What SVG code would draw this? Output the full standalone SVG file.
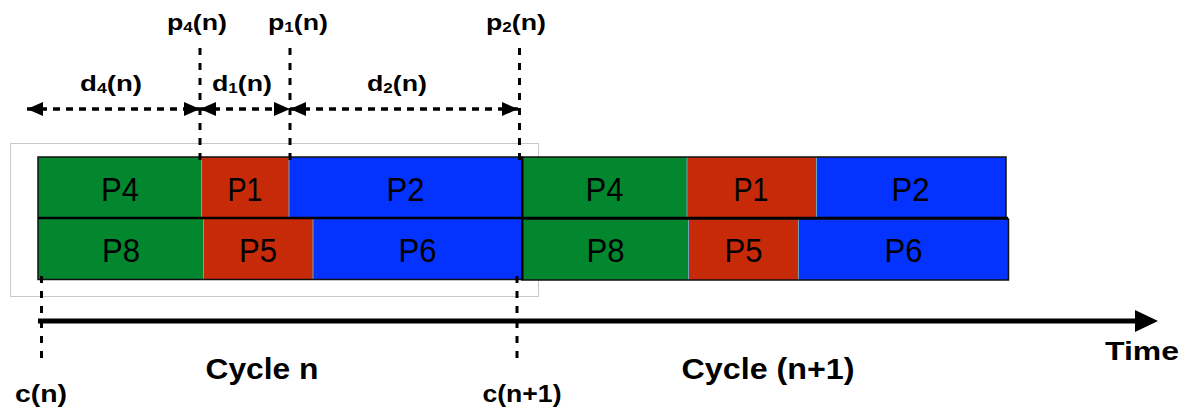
<svg xmlns="http://www.w3.org/2000/svg" width="1185" height="409" viewBox="0 0 1185 409">
<style>
.lbl{font-family:"Liberation Sans",Arial,sans-serif;font-weight:bold;fill:#000;text-anchor:middle}
.bar{font-family:"Liberation Sans",Arial,sans-serif;font-size:34px;fill:#000;text-anchor:middle}
.g{fill:#02872F}.r{fill:#C62A09}.b{fill:#0433FF}
.sep{stroke:#6fa3b5;stroke-width:1}
.row{fill:none;stroke:#111;stroke-width:1.5}
.vdash{stroke:#000;stroke-width:3;stroke-dasharray:7 8;fill:none}
.hdash{stroke:#000;stroke-width:3.5;stroke-dasharray:7 6;fill:none}
</style>
<defs>
<marker id="ah" markerUnits="userSpaceOnUse" markerWidth="16" markerHeight="14" refX="16" refY="7" orient="auto-start-reverse">
<path d="M0,0 L16,7 L0,14 Z" fill="#000"/>
</marker>
</defs>
<rect x="10.5" y="143.5" width="528" height="153" fill="none" stroke="#c8c8c8" stroke-width="1"/>

<g id="cycle-n">
<g id="n-P4"><rect class="g" x="38" y="157" width="163.5" height="61"/><text class="bar" x="120" y="200.5" textLength="38" lengthAdjust="spacingAndGlyphs">P4</text></g>
<g id="n-P1"><rect class="r" x="201.5" y="157" width="87.5" height="61"/><text class="bar" x="245" y="200.5" textLength="35" lengthAdjust="spacingAndGlyphs">P1</text></g>
<g id="n-P2"><rect class="b" x="289" y="157" width="233" height="61"/><text class="bar" x="405.5" y="200.5" textLength="38" lengthAdjust="spacingAndGlyphs">P2</text></g>
<g id="n-P8"><rect class="g" x="38" y="218" width="165.5" height="61.5"/><text class="bar" x="121" y="261.5" textLength="38" lengthAdjust="spacingAndGlyphs">P8</text></g>
<g id="n-P5"><rect class="r" x="203.5" y="218" width="109.5" height="61.5"/><text class="bar" x="258" y="261.5" textLength="38" lengthAdjust="spacingAndGlyphs">P5</text></g>
<g id="n-P6"><rect class="b" x="313" y="218" width="209" height="61.5"/><text class="bar" x="417.5" y="261.5" textLength="38" lengthAdjust="spacingAndGlyphs">P6</text></g>
<line class="sep" x1="201.5" y1="157" x2="201.5" y2="218"/>
<line class="sep" x1="289" y1="157" x2="289" y2="218"/>
<line class="sep" x1="203.5" y1="218" x2="203.5" y2="279.5"/>
<line class="sep" x1="313" y1="218" x2="313" y2="279.5"/>
<rect class="row" x="38" y="157" width="484" height="122.5"/>
</g>

<g id="cycle-n1">
<g id="n1-P4"><rect class="g" x="522" y="157" width="165" height="61"/><text class="bar" x="604.5" y="200.5" textLength="38" lengthAdjust="spacingAndGlyphs">P4</text></g>
<g id="n1-P1"><rect class="r" x="687" y="157" width="129.5" height="61"/><text class="bar" x="751" y="200.5" textLength="35" lengthAdjust="spacingAndGlyphs">P1</text></g>
<g id="n1-P2"><rect class="b" x="816.5" y="157" width="189.5" height="61"/><text class="bar" x="910.5" y="200.5" textLength="38" lengthAdjust="spacingAndGlyphs">P2</text></g>
<g id="n1-P8"><rect class="g" x="522" y="219" width="166.5" height="61"/><text class="bar" x="605.5" y="262" textLength="38" lengthAdjust="spacingAndGlyphs">P8</text></g>
<g id="n1-P5"><rect class="r" x="688.5" y="219" width="110" height="61"/><text class="bar" x="743.5" y="262" textLength="38" lengthAdjust="spacingAndGlyphs">P5</text></g>
<g id="n1-P6"><rect class="b" x="798.5" y="219" width="210" height="61"/><text class="bar" x="903.5" y="262" textLength="38" lengthAdjust="spacingAndGlyphs">P6</text></g>
<line class="sep" x1="687" y1="157" x2="687" y2="218"/>
<line class="sep" x1="816.5" y1="157" x2="816.5" y2="218"/>
<line class="sep" x1="688.5" y1="219" x2="688.5" y2="280"/>
<line class="sep" x1="798.5" y1="219" x2="798.5" y2="280"/>
<rect class="row" x="522" y="157" width="484" height="61"/>
<rect class="row" x="522" y="219" width="486.5" height="61"/>
</g>
<line x1="38" y1="218" x2="1008" y2="218" stroke="#000" stroke-width="2.5"/>
<line x1="522.5" y1="157" x2="522.5" y2="280" stroke="#000" stroke-width="2"/>

<g id="connectors">
<line class="vdash" x1="200" y1="48" x2="200" y2="168"/>
<line class="vdash" x1="290" y1="48" x2="290" y2="168"/>
<line class="vdash" x1="519.5" y1="48" x2="519.5" y2="168"/>
<line class="vdash" x1="41.5" y1="276" x2="41.5" y2="366"/>
<line class="vdash" x1="517" y1="276" x2="517" y2="366"/>
<line class="hdash" x1="27" y1="109" x2="200" y2="109" marker-start="url(#ah)" marker-end="url(#ah)"/>
<line class="hdash" x1="200" y1="109" x2="290" y2="109" marker-start="url(#ah)" marker-end="url(#ah)"/>
<line class="hdash" x1="290" y1="109" x2="518" y2="109" marker-start="url(#ah)" marker-end="url(#ah)"/>
<line x1="38" y1="321" x2="1137" y2="321" stroke="#000" stroke-width="5"/>
<polygon points="1135,310 1158,321 1135,332" fill="#000"/>
</g>

<g id="labels">
<text class="lbl" x="197" y="30" font-size="22" textLength="60" lengthAdjust="spacingAndGlyphs">p<tspan font-size="14" dy="2">4</tspan><tspan dy="-2">(n)</tspan></text>
<text class="lbl" x="298" y="30" font-size="22" textLength="60" lengthAdjust="spacingAndGlyphs">p<tspan font-size="14" dy="2">1</tspan><tspan dy="-2">(n)</tspan></text>
<text class="lbl" x="516" y="30" font-size="22" textLength="60" lengthAdjust="spacingAndGlyphs">p<tspan font-size="14" dy="2">2</tspan><tspan dy="-2">(n)</tspan></text>
<text class="lbl" x="111" y="91" font-size="22" textLength="62" lengthAdjust="spacingAndGlyphs">d<tspan font-size="14" dy="2">4</tspan><tspan dy="-2">(n)</tspan></text>
<text class="lbl" x="242" y="91" font-size="22" textLength="60" lengthAdjust="spacingAndGlyphs">d<tspan font-size="14" dy="2">1</tspan><tspan dy="-2">(n)</tspan></text>
<text class="lbl" x="397" y="91" font-size="22" textLength="60" lengthAdjust="spacingAndGlyphs">d<tspan font-size="14" dy="2">2</tspan><tspan dy="-2">(n)</tspan></text>
<text class="lbl" x="41" y="402" font-size="24" textLength="52" lengthAdjust="spacingAndGlyphs">c(n)</text>
<text class="lbl" x="522" y="402" font-size="24" textLength="79" lengthAdjust="spacingAndGlyphs">c(n+1)</text>
<text class="lbl" x="262" y="379" font-size="29" textLength="113" lengthAdjust="spacingAndGlyphs">Cycle n</text>
<text class="lbl" x="768" y="379" font-size="29" textLength="173" lengthAdjust="spacingAndGlyphs">Cycle (n+1)</text>
<text class="lbl" x="1142" y="360" font-size="26" textLength="74" lengthAdjust="spacingAndGlyphs">Time</text>
</g>
</svg>
